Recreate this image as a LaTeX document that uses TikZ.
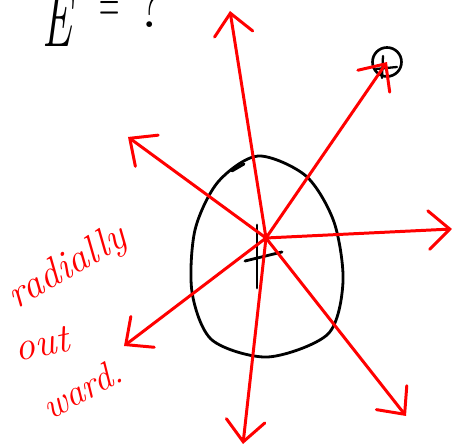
\documentclass[tikz,border=0pt]{standalone}
\usepackage{fontspec}
\usetikzlibrary{arrows.meta}
\tikzset{
  ray/.style={red, line width=1.7pt, line cap=round, line join=round,
    -{Straight Barb[length=12pt,width=22pt,line cap=round]}},
  ink/.style={black, line width=1.6pt, line cap=round},
  note/.style={red, font=\fontsize{23}{25}\selectfont\itshape, inner sep=0pt},
  charge/.style={circle, draw, black, line width=1.5pt, minimum size=0.58cm, inner sep=0pt},
}
\begin{document}
\begin{tikzpicture}[x=0.02cm, y=-0.02cm]
        \useasboundingbox (0,0) rectangle (458,448);
        % the question
        \node[font=\fontsize{46}{48}\selectfont, inner sep=0pt, anchor=base] (E) at (57,47) {\scalebox{0.55}[1]{\itshape E}};
        \node[font=\fontsize{32}{34}\selectfont, inner sep=0pt] (eq) at (110,12) {\scalebox{0.5}[1.05]{=}};
        \node[font=\fontsize{40}{42}\selectfont, inner sep=0pt, anchor=base] (qm) at (151,28) {?};
        % the charged body
        \draw[ink] plot[smooth cycle] coordinates {(258,156) (306,176) (334,222) (343,282)
            (328,334) (268,357) (212,340) (192,292) (195,230) (218,182)};
        \draw[ink] (232,171) -- (244,164);
        \draw[ink] (257,225) -- (257,288);
        \draw[ink] (245,261) -- (282,252);
        % the test charge
        \node[charge] (q) at (387,62) {};
        \draw[ink, line width=1.3pt] (383,56) -- (382,78);
        \draw[ink, line width=1.3pt] (376,69) -- (397,67);
        % field lines
        \coordinate (ctr) at (266,238);
        \coordinate (up) at (230,11);
        \coordinate (upleft) at (128,137);
        \coordinate (right) at (452,229);
        \coordinate (downright) at (406,416);
        \coordinate (down) at (243,444);
        \coordinate (downleft) at (124,346);
        \foreach \tip in {up,upleft,right,downright,down,downleft}{
            \draw[ray] (ctr) -- (\tip);
        }
        \draw[ray] (ctr) -- (q.center);
        % label
        \node[note, rotate=30] (rad) at (68,268) {radially};
        \node[note, rotate=12] (out) at (42,344) {out};
        \node[note, rotate=28, font=\fontsize{21}{23}\selectfont\itshape] (ward) at (82,389) {ward.};
    \end{tikzpicture}
\end{document}
